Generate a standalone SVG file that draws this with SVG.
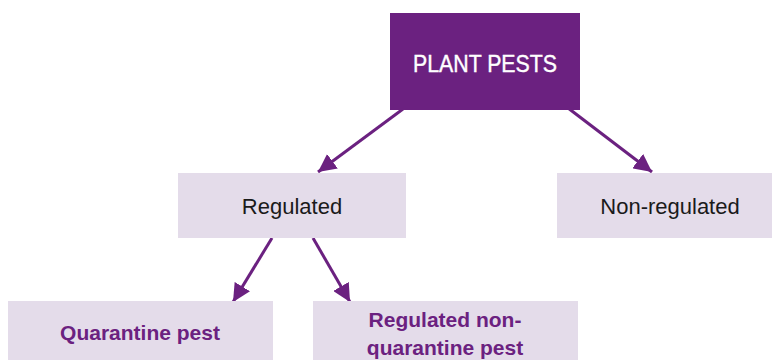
<svg xmlns="http://www.w3.org/2000/svg" width="772" height="360" viewBox="0 0 772 360">
<style>
.box{fill:#e4dcea}
.top{fill:#6b2180}
.t{font-family:"Liberation Sans",Arial,sans-serif;text-anchor:middle}
.w{fill:#ffffff;font-size:23px;stroke:#ffffff;stroke-width:0.4}
.k{fill:#1a1a1a;font-size:22px}
.p{fill:#6b2180;font-size:21px;font-weight:bold}
.c{stroke:#6b2180;stroke-width:3;fill:none}
</style>
<defs>
<marker id="ah" viewBox="0 0 10 10" refX="10" refY="5" markerWidth="6" markerHeight="6" markerUnits="strokeWidth" orient="auto">
<path d="M0,0 L10,5 L0,10 z" fill="#6b2180"/>
</marker>
</defs>
<g id="connectors">
<line class="c" x1="403" y1="109" x2="318" y2="172" marker-end="url(#ah)"/>
<line class="c" x1="568" y1="108" x2="652" y2="172" marker-end="url(#ah)"/>
<line class="c" x1="272" y1="238" x2="233" y2="302" marker-end="url(#ah)"/>
<line class="c" x1="313" y1="238" x2="350" y2="302" marker-end="url(#ah)"/>
</g>
<g id="plant-pests">
<rect class="top" x="390" y="13" width="190" height="97"/>
<text class="t w" x="485" y="72" textLength="144" lengthAdjust="spacingAndGlyphs">PLANT PESTS</text>
</g>
<g id="regulated">
<rect class="box" x="178" y="173" width="228" height="65"/>
<text class="t k" x="292" y="214">Regulated</text>
</g>
<g id="non-regulated">
<rect class="box" x="557" y="173" width="215" height="65"/>
<text class="t k" x="670" y="214">Non-regulated</text>
</g>
<g id="quarantine-pest">
<rect class="box" x="8" y="301" width="265" height="59"/>
<text class="t p" x="140" y="340">Quarantine pest</text>
</g>
<g id="regulated-non-quarantine-pest">
<rect class="box" x="313" y="301" width="265" height="59"/>
<text class="t p" x="445" y="327">Regulated non-</text>
<text class="t p" x="445" y="355">quarantine pest</text>
</g>
</svg>
